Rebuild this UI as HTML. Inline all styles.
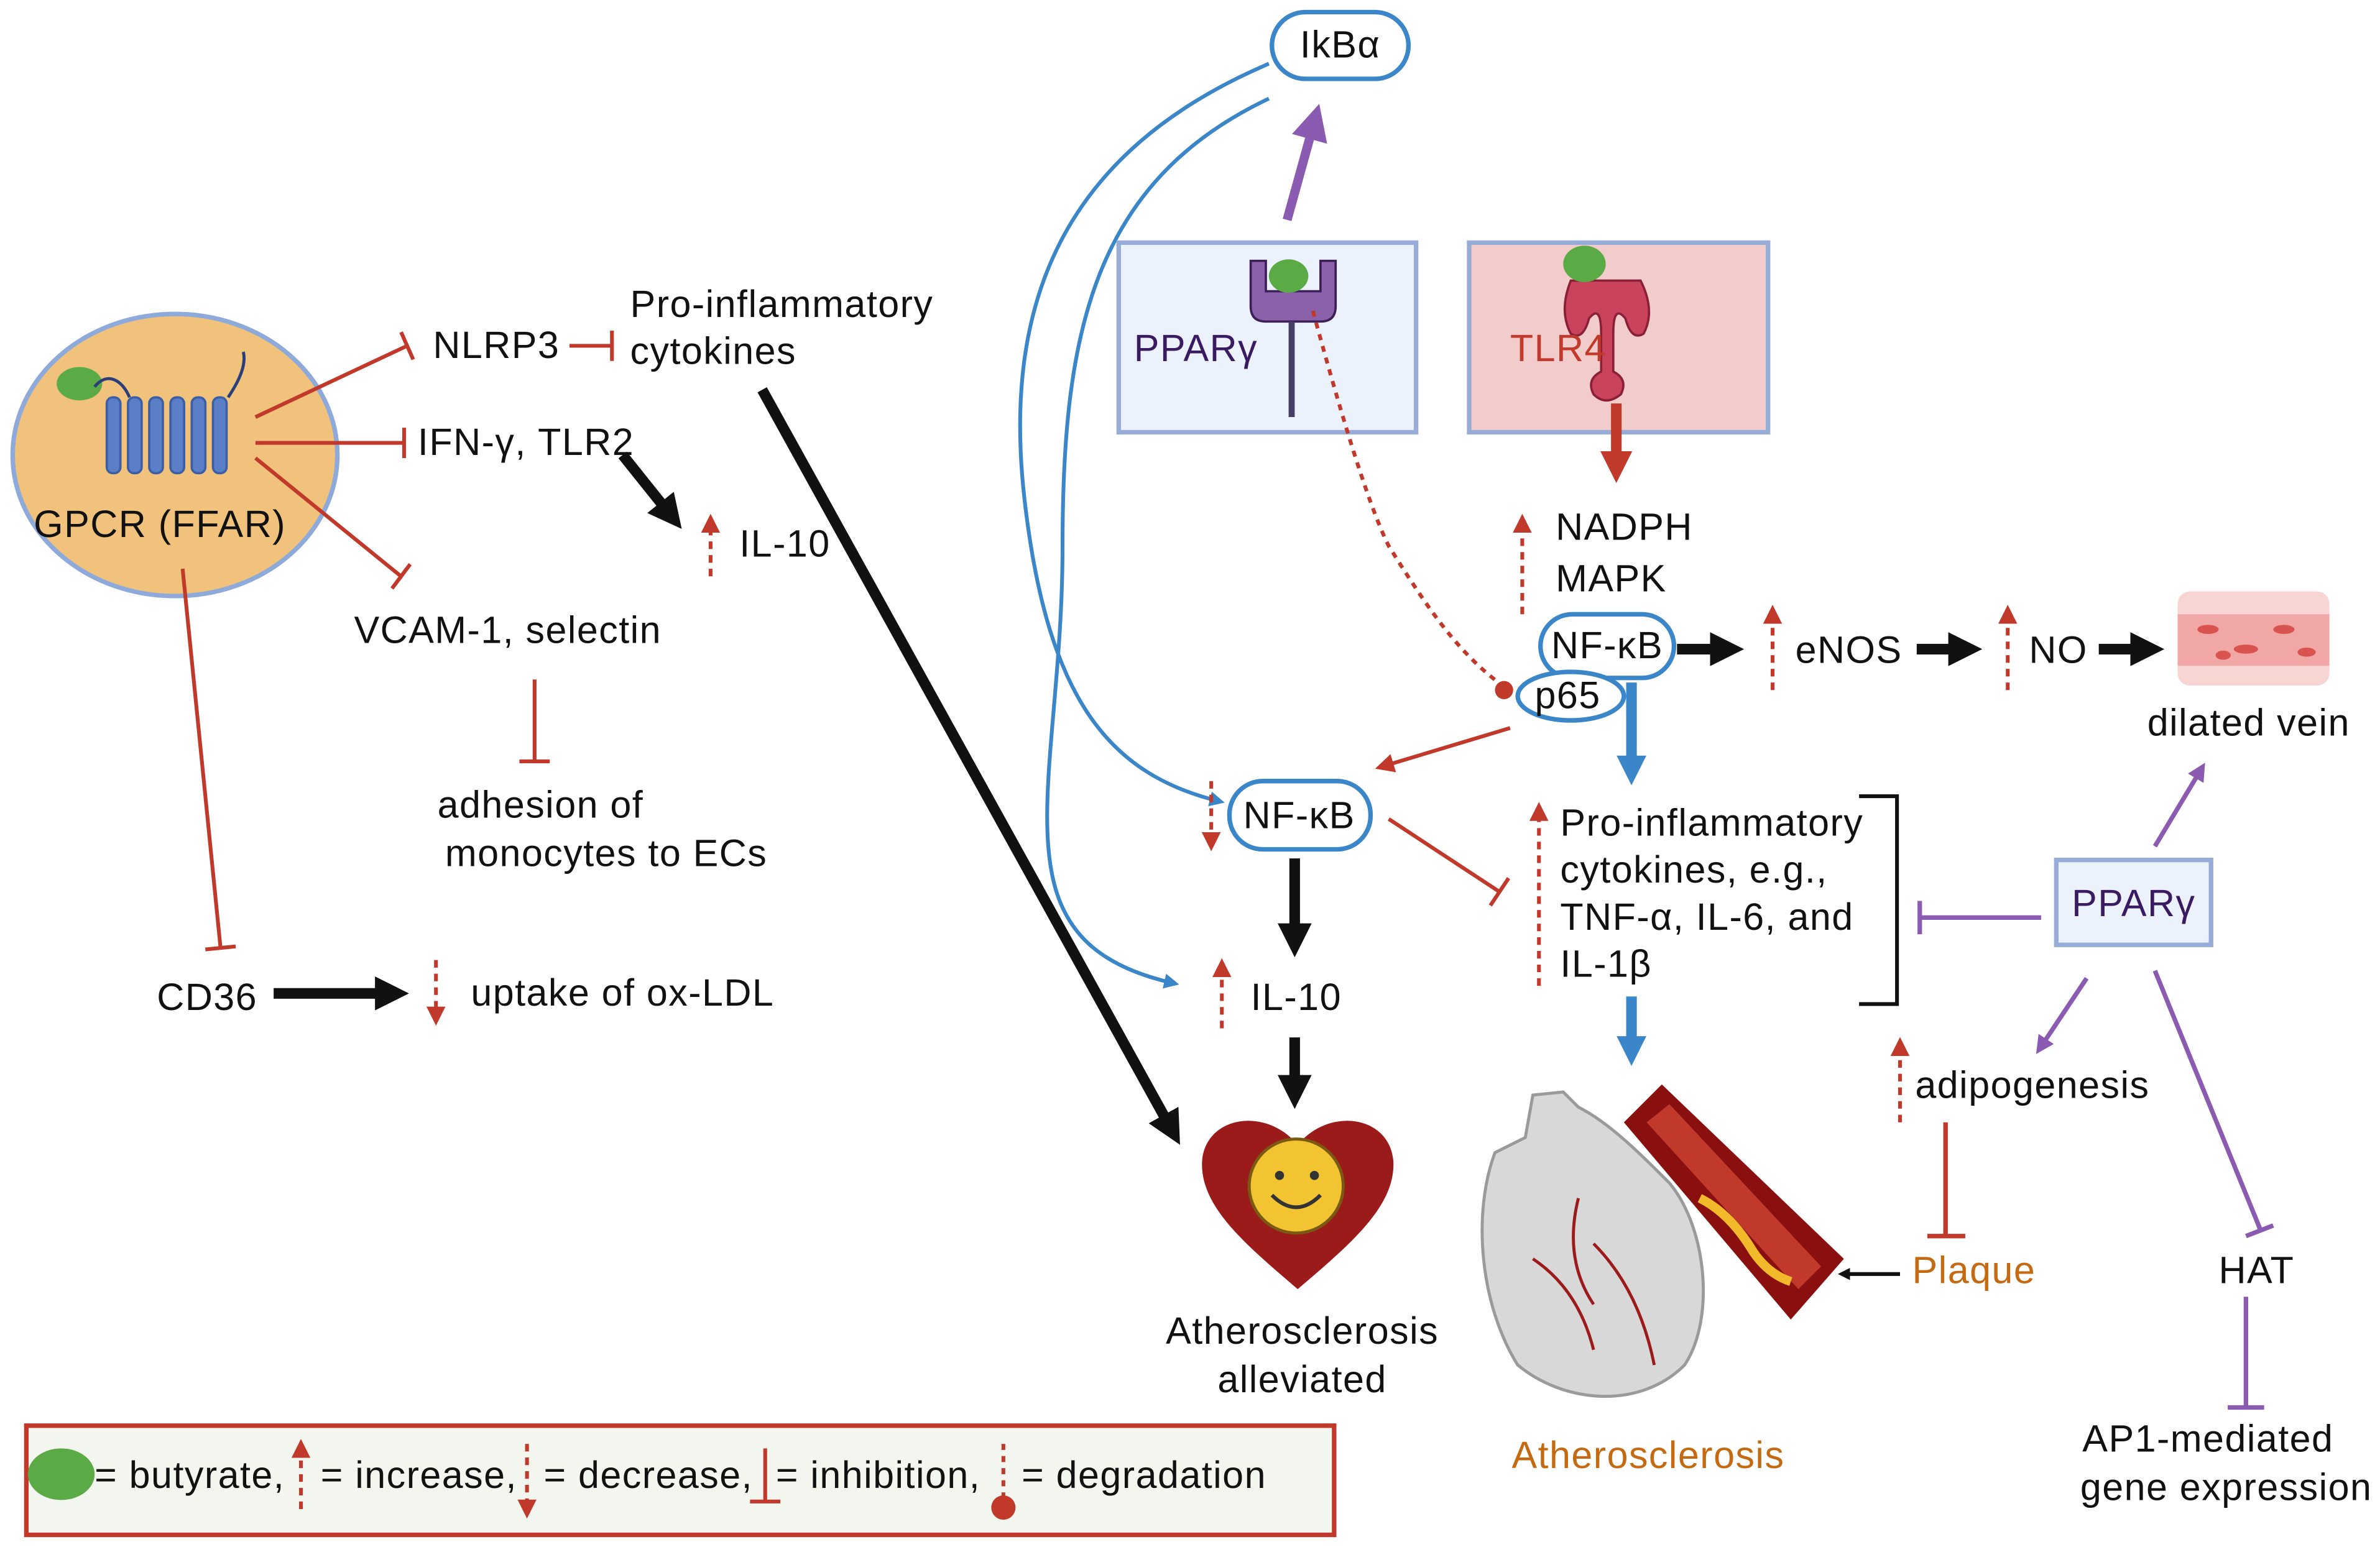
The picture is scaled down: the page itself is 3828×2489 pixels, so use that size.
<!DOCTYPE html>
<html><head><meta charset="utf-8"><style>
html,body{margin:0;padding:0;background:#fff;}
svg{display:block;}
text{font-family:"Liberation Sans",sans-serif;font-size:25px;letter-spacing:0.6px;fill:#111;}
</style></head><body>
<svg width="3828" height="2489" viewBox="0 0 1568 1020" xmlns="http://www.w3.org/2000/svg">
<defs>
<marker id="ab" viewBox="0 0 10 10" refX="5" refY="5" markerWidth="3.2" markerHeight="3.2" orient="auto"><path d="M0,0L10,5L0,10z" fill="#111"/></marker>
<marker id="ar" viewBox="0 0 10 10" refX="5" refY="5" markerWidth="3" markerHeight="3" orient="auto"><path d="M0,0L10,5L0,10z" fill="#c0392b"/></marker>
<marker id="ar2" viewBox="0 0 10 10" refX="5" refY="5" markerWidth="5" markerHeight="5" orient="auto"><path d="M0,0L10,5L0,10z" fill="#c0392b"/></marker>
<marker id="abl" viewBox="0 0 10 10" refX="5" refY="5" markerWidth="4" markerHeight="4" orient="auto"><path d="M0,0L10,5L0,10z" fill="#3a86c8"/></marker>
<marker id="abl2" viewBox="0 0 10 10" refX="5" refY="5" markerWidth="2.8" markerHeight="2.8" orient="auto"><path d="M0,0L10,5L0,10z" fill="#3a86c8"/></marker>
<marker id="ap" viewBox="0 0 10 10" refX="5" refY="5" markerWidth="4" markerHeight="4" orient="auto"><path d="M0,0L10,5L0,10z" fill="#8a5bb0"/></marker>
<marker id="ap2" viewBox="0 0 10 10" refX="5" refY="5" markerWidth="4" markerHeight="4" orient="auto"><path d="M0,0L10,5L0,10z" fill="#8a5bb0"/></marker>
<marker id="adr" viewBox="0 0 10 10" refX="5" refY="5" markerWidth="5" markerHeight="5" orient="auto"><path d="M0,0L10,5L0,10z" fill="#c0392b"/></marker>
</defs>

<!-- GPCR -->
<ellipse cx="115" cy="300" rx="107" ry="93" fill="#f1c27b" stroke="#8eaadb" stroke-width="3"/>
<ellipse cx="52" cy="253" rx="15" ry="11" fill="#5aaa45"/>
<g fill="#5b7fc6" stroke="#3b5ea6" stroke-width="1.5">
<rect x="70" y="262" width="9" height="50" rx="4"/><rect x="84" y="262" width="9" height="50" rx="4"/><rect x="98" y="262" width="9" height="50" rx="4"/><rect x="112" y="262" width="9" height="50" rx="4"/><rect x="126" y="262" width="9" height="50" rx="4"/><rect x="140" y="262" width="9" height="50" rx="4"/>
</g>
<path d="M62,255 C70,245 80,250 85,262 M150,262 C158,250 162,240 160,232" stroke="#2a3f7a" stroke-width="2" fill="none"/>
<text x="105" y="354" text-anchor="middle">GPCR (FFAR)</text>

<g stroke="#c0392b" stroke-width="2.5" fill="none">
<line x1="168" y1="275" x2="268" y2="228"/><line x1="264" y1="219" x2="272" y2="237"/>
<line x1="168" y1="292" x2="266" y2="292"/><line x1="266" y1="282" x2="266" y2="302"/>
<line x1="168" y1="302" x2="264" y2="380"/><line x1="258" y1="388" x2="270" y2="372"/>
<line x1="120" y1="375" x2="145" y2="625"/><line x1="135" y1="626" x2="155" y2="624"/>
<line x1="375" y1="228" x2="403" y2="228"/><line x1="403" y1="218" x2="403" y2="238"/>
<line x1="352" y1="448" x2="352" y2="502"/><line x1="342" y1="502" x2="362" y2="502"/>
</g>
<text x="285" y="236">NLRP3</text>
<text x="415" y="209">Pro-inflammatory</text>
<text x="415" y="240">cytokines</text>
<text x="275" y="300">IFN-γ, TLR2</text>
<text x="487" y="367">IL-10</text>
<line x1="468" y1="380" x2="468" y2="345" stroke="#c0392b" stroke-width="2.5" stroke-dasharray="5,4" marker-end="url(#adr)"/>
<text x="233" y="424">VCAM-1, selectin</text>
<text x="288" y="539">adhesion of</text>
<text x="293" y="571">monocytes to ECs</text>
<text x="103" y="666">CD36</text>
<line x1="180" y1="655" x2="258" y2="655" stroke="#111" stroke-width="7" marker-end="url(#ab)"/>
<line x1="287" y1="633" x2="287" y2="670" stroke="#c0392b" stroke-width="2.5" stroke-dasharray="5,4" marker-end="url(#adr)"/>
<text x="310" y="663">uptake of ox-LDL</text>

<line x1="410" y1="300" x2="442" y2="340" stroke="#111" stroke-width="7" marker-end="url(#ab)"/>
<line x1="502" y1="257" x2="772" y2="745" stroke="#111" stroke-width="7" marker-end="url(#ab)"/>

<!-- IkBa -->
<rect x="838" y="8" width="90" height="44" rx="22" fill="#fff" stroke="#3a86c8" stroke-width="3"/>
<text x="883" y="38" text-anchor="middle">IkBα</text>
<path d="M836,42 C700,100 660,200 675,330 C690,460 730,510 802,528" stroke="#3a86c8" stroke-width="2.5" fill="none" marker-end="url(#abl)"/>
<path d="M836,65 C720,120 700,220 700,360 C700,520 650,620 772,648" stroke="#3a86c8" stroke-width="2.5" fill="none" marker-end="url(#abl)"/>
<line x1="848" y1="145" x2="866" y2="80" stroke="#8a5bb0" stroke-width="6" marker-end="url(#ap)"/>

<!-- PPARg box -->
<rect x="737" y="160" width="196" height="125" fill="#ebf2fb" stroke="#97acd6" stroke-width="3"/>
<path d="M824,172 v30 q0,10 10,10 h36 q10,0 10,-10 v-30 h-10 v20 h-36 v-20 z" fill="#8b62aa" stroke="#3d1f5a" stroke-width="1.5"/>
<line x1="851" y1="212" x2="851" y2="275" stroke="#443d66" stroke-width="4"/>
<ellipse cx="849" cy="182" rx="13" ry="11" fill="#5aaa45"/>
<text x="747" y="238" style="fill:#3a1a60">PPARγ</text>
<!-- TLR4 box -->
<rect x="968" y="160" width="197" height="125" fill="#f2cbcb" stroke="#97acd6" stroke-width="3"/>
<path d="M1035,185 q-8,20 0,35 q8,5 12,-10 q8,-10 8,10 v25 q-10,5 -5,15 q8,8 18,0 q5,-10 -5,-15 v-25 q0,-20 8,-10 q4,15 12,10 q8,-15 -2,-35 z" fill="#c9435c" stroke="#8b1f35" stroke-width="1.5"/>
<ellipse cx="1044" cy="174" rx="14" ry="12" fill="#5aaa45"/>
<text x="995" y="238" style="fill:#c0392b">TLR4</text>
<line x1="1065" y1="266" x2="1065" y2="308" stroke="#c0392b" stroke-width="7" marker-end="url(#ar)"/>

<text x="1025" y="356">NADPH</text>
<text x="1025" y="390">MAPK</text>
<line x1="1003" y1="405" x2="1003" y2="345" stroke="#c0392b" stroke-width="2.5" stroke-dasharray="5,4" marker-end="url(#adr)"/>

<path d="M865,205 C880,260 900,330 915,360 C940,400 960,430 990,452" stroke="#c0392b" stroke-width="2.5" stroke-dasharray="4,4" fill="none"/>
<circle cx="991" cy="455" r="6" fill="#c0392b"/>

<rect x="1015" y="405" width="88" height="42" rx="21" fill="#fff" stroke="#3a86c8" stroke-width="3"/>
<text x="1059" y="434" text-anchor="middle">NF-κB</text>
<ellipse cx="1035" cy="459" rx="35" ry="16" fill="#fff" stroke="#3a86c8" stroke-width="3"/>
<text x="1033" y="467" text-anchor="middle">p65</text>

<line x1="1105" y1="428" x2="1138" y2="428" stroke="#111" stroke-width="7" marker-end="url(#ab)"/>
<line x1="1168" y1="455" x2="1168" y2="405" stroke="#c0392b" stroke-width="2.5" stroke-dasharray="5,4" marker-end="url(#adr)"/>
<text x="1183" y="437">eNOS</text>
<line x1="1263" y1="428" x2="1295" y2="428" stroke="#111" stroke-width="7" marker-end="url(#ab)"/>
<line x1="1323" y1="455" x2="1323" y2="405" stroke="#c0392b" stroke-width="2.5" stroke-dasharray="5,4" marker-end="url(#adr)"/>
<text x="1337" y="437">NO</text>
<line x1="1383" y1="428" x2="1415" y2="428" stroke="#111" stroke-width="7" marker-end="url(#ab)"/>
<rect x="1435" y="390" width="100" height="62" rx="8" fill="#f6d5d3"/>
<rect x="1435" y="405" width="100" height="34" fill="#f0a7a5"/>
<g fill="#d9534f"><ellipse cx="1455" cy="415" rx="7" ry="3"/><ellipse cx="1480" cy="428" rx="8" ry="3"/><ellipse cx="1505" cy="415" rx="7" ry="3"/><ellipse cx="1520" cy="430" rx="6" ry="3"/><ellipse cx="1465" cy="432" rx="5" ry="3"/></g>
<text x="1415" y="485">dilated vein</text>

<line x1="1075" y1="450" x2="1075" y2="508" stroke="#3a86c8" stroke-width="7" marker-end="url(#abl2)"/>
<line x1="995" y1="480" x2="912" y2="505" stroke="#c0392b" stroke-width="2.5" marker-end="url(#ar2)"/>

<rect x="810" y="515" width="93" height="45" rx="22" fill="#fff" stroke="#3a86c8" stroke-width="3"/>
<text x="856" y="546" text-anchor="middle">NF-κB</text>
<line x1="798" y1="515" x2="798" y2="555" stroke="#c0392b" stroke-width="2.5" stroke-dasharray="5,4" marker-end="url(#adr)"/>
<line x1="853" y1="566" x2="853" y2="620" stroke="#111" stroke-width="7" marker-end="url(#ab)"/>
<line x1="805" y1="678" x2="805" y2="638" stroke="#c0392b" stroke-width="2.5" stroke-dasharray="5,4" marker-end="url(#adr)"/>
<text x="824" y="666">IL-10</text>
<line x1="853" y1="684" x2="853" y2="720" stroke="#111" stroke-width="7" marker-end="url(#ab)"/>

<path d="M855,850 C820,820 790,795 792,765 C795,735 835,730 855,755 C875,730 915,735 918,765 C920,795 890,820 855,850 z" fill="#9b1b1b"/>
<circle cx="854" cy="782" r="31" fill="#f2c431" stroke="#7a5a10" stroke-width="2"/>
<circle cx="843" cy="775" r="3" fill="#333"/><circle cx="866" cy="775" r="3" fill="#333"/>
<path d="M838,788 q16,16 32,0" stroke="#333" stroke-width="2.5" fill="none"/>
<text x="858" y="886" text-anchor="middle">Atherosclerosis</text>
<text x="858" y="918" text-anchor="middle">alleviated</text>

<line x1="915" y1="540" x2="988" y2="588" stroke="#c0392b" stroke-width="2.5"/>
<line x1="982" y1="597" x2="994" y2="579" stroke="#c0392b" stroke-width="2.5"/>
<line x1="1014" y1="650" x2="1014" y2="535" stroke="#c0392b" stroke-width="2.5" stroke-dasharray="5,4" marker-end="url(#adr)"/>
<text x="1028" y="551">Pro-inflammatory</text>
<text x="1028" y="582">cytokines, e.g.,</text>
<text x="1028" y="613">TNF-α, IL-6, and</text>
<text x="1028" y="644">IL-1β</text>
<path d="M1225,525 H1250 V662 H1225" stroke="#111" stroke-width="2.5" fill="none"/>
<line x1="1075" y1="657" x2="1075" y2="693" stroke="#3a86c8" stroke-width="7" marker-end="url(#abl2)"/>

<rect x="1355" y="567" width="102" height="56" fill="#ebf2fb" stroke="#97acd6" stroke-width="3"/>
<text x="1406" y="604" text-anchor="middle" style="fill:#3a1a60">PPARγ</text>
<line x1="1345" y1="605" x2="1265" y2="605" stroke="#8a5bb0" stroke-width="3"/>
<line x1="1265" y1="594" x2="1265" y2="616" stroke="#8a5bb0" stroke-width="3"/>
<line x1="1420" y1="558" x2="1450" y2="508" stroke="#8a5bb0" stroke-width="3" marker-end="url(#ap2)"/>
<line x1="1375" y1="645" x2="1345" y2="690" stroke="#8a5bb0" stroke-width="3" marker-end="url(#ap2)"/>
<line x1="1420" y1="640" x2="1490" y2="812" stroke="#8a5bb0" stroke-width="3"/>
<line x1="1480" y1="815" x2="1498" y2="808" stroke="#8a5bb0" stroke-width="3"/>

<line x1="1252" y1="740" x2="1252" y2="690" stroke="#c0392b" stroke-width="2.5" stroke-dasharray="5,4" marker-end="url(#adr)"/>
<text x="1262" y="724">adipogenesis</text>
<line x1="1282" y1="740" x2="1282" y2="815" stroke="#c0392b" stroke-width="3"/>
<line x1="1270" y1="815" x2="1295" y2="815" stroke="#c0392b" stroke-width="3"/>
<text x="1260" y="846" style="fill:#c46a12">Plaque</text>
<line x1="1252" y1="840" x2="1215" y2="840" stroke="#111" stroke-width="2.5" marker-end="url(#ab)"/>
<text x="1462" y="846">HAT</text>
<line x1="1480" y1="855" x2="1480" y2="928" stroke="#8a5bb0" stroke-width="3"/>
<line x1="1468" y1="928" x2="1492" y2="928" stroke="#8a5bb0" stroke-width="3"/>
<text x="1455" y="957" text-anchor="middle">AP1-mediated</text>
<text x="1467" y="989" text-anchor="middle">gene expression</text>

<path d="M985,760 C970,800 975,860 1000,900 C1030,925 1080,930 1110,900 C1130,870 1125,810 1100,780 C1080,760 1060,740 1040,730 L1030,720 L1010,722 L1005,750 z" fill="#d8d8d8" stroke="#9a9a9a" stroke-width="2"/>
<path d="M1070,740 L1180,870 L1215,830 L1095,715 z" fill="#8a1010"/>
<path d="M1085,740 L1185,850 L1200,835 L1100,728 z" fill="#c0392b"/>
<path d="M1120,790 q20,10 35,35 q10,15 25,20" stroke="#f2b92a" stroke-width="6" fill="none"/>
<path d="M1010,830 q30,20 40,60 M1050,820 q30,30 40,80 M1040,790 q-10,40 10,70" stroke="#9b1b1b" stroke-width="2" fill="none"/>
<text x="1086" y="968" text-anchor="middle" style="fill:#c46a12">Atherosclerosis</text>

<rect x="17" y="940" width="862" height="72" fill="#f2f6ee" stroke="#c0392b" stroke-width="3"/>
<ellipse cx="40" cy="972" rx="22" ry="17" fill="#5aaa45"/>
<text x="62" y="981">= butyrate,</text>
<line x1="198" y1="995" x2="198" y2="955" stroke="#c0392b" stroke-width="2.5" stroke-dasharray="5,4" marker-end="url(#adr)"/>
<text x="211" y="981">= increase,</text>
<line x1="347" y1="952" x2="347" y2="995" stroke="#c0392b" stroke-width="2.5" stroke-dasharray="5,4" marker-end="url(#adr)"/>
<text x="358" y="981">= decrease,</text>
<line x1="504" y1="955" x2="504" y2="990" stroke="#c0392b" stroke-width="2.5"/>
<line x1="494" y1="990" x2="514" y2="990" stroke="#c0392b" stroke-width="2.5"/>
<text x="511" y="981">= inhibition,</text>
<line x1="661" y1="952" x2="661" y2="988" stroke="#c0392b" stroke-width="2.5" stroke-dasharray="4,4"/>
<circle cx="661" cy="994" r="8" fill="#c0392b"/>
<text x="673" y="981">= degradation</text>
</svg>
</body></html>
